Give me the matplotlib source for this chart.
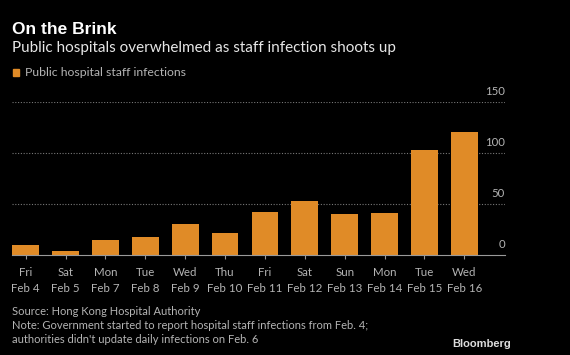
import matplotlib.pyplot as plt

days = ['Fri', 'Sat', 'Mon', 'Tue', 'Wed', 'Thu', 'Fri', 'Sat', 'Sun', 'Mon', 'Tue', 'Wed']
dates = ['Feb 4', 'Feb 5', 'Feb 7', 'Feb 8', 'Feb 9', 'Feb 10', 'Feb 11',
         'Feb 12', 'Feb 13', 'Feb 14', 'Feb 15', 'Feb 16']
infections = [10, 4, 15, 18, 30, 22, 42, 53, 40, 41, 103, 120]
y_ticks = [0, 50, 100, 150]

bar_color = '#E08B27'
grey = '#b4b4b4'
plt.rcParams['font.family'] = ['Lato', 'DejaVu Sans']

fig = plt.figure(figsize=(5.7, 3.55), dpi=100, facecolor='black')
ax = fig.add_axes([12.3 / 570, 100 / 355, (505 - 12.3) / 570, 153.3 / 355])
ax.set_facecolor('black')

x = list(range(len(infections)))
ax.bar(x, infections, width=0.67, color=bar_color, zorder=2)
ax.set_xlim(-0.335, 12.02)
ax.set_ylim(0, 150)

# dotted gridlines with labels sitting above them on the right
for v in y_ticks:
    if v > 0:
        ax.axhline(v, color='#777777', lw=0.8, ls=(0, (1, 1.5)), zorder=1)
    ax.text(1.0, v + 5, str(v), transform=ax.get_yaxis_transform(), ha='right',
            va='bottom', color=grey, fontsize=8.2)

for s in ['top', 'right', 'left']:
    ax.spines[s].set_visible(False)
ax.spines['bottom'].set_color('#999999')
ax.spines['bottom'].set_linewidth(0.8)
ax.set_yticks([])
ax.set_xticks(x)
ax.set_xticklabels(['{}\n{}'.format(d, t) for d, t in zip(days, dates)],
                   color=grey, fontsize=8.3, linespacing=1.55)
ax.tick_params(axis='x', length=3, color='#999999', pad=6)

fig.text(12 / 570, 1 - 34 / 355, 'On the Brink', color='white', fontsize=12.5,
         fontweight='bold', family='Liberation Sans')
fig.text(12 / 570, 1 - 52 / 355, 'Public hospitals overwhelmed as staff infection shoots up',
         color='#e6e6e6', fontsize=11)
fig.patches.append(plt.Rectangle((12.7 / 570, 1 - 76 / 355), 6.6 / 570, 7 / 355,
                                 transform=fig.transFigure, color=bar_color))
fig.text(25 / 570, 1 - 76.5 / 355, 'Public hospital staff infections', color=grey, fontsize=8.8)

fig.text(12 / 570, 1 - 315 / 355, 'Source: Hong Kong Hospital Authority', color=grey, fontsize=8)
fig.text(12 / 570, 1 - 329 / 355,
         'Note: Government started to report hospital staff infections from Feb. 4;',
         color=grey, fontsize=8)
fig.text(12 / 570, 1 - 343 / 355, "authorities didn't update daily infections on Feb. 6",
         color=grey, fontsize=8)
fig.text(511 / 570, 1 - 347 / 355, 'Bloomberg', color='#dddddd', fontsize=8,
         fontweight='bold', ha='right', family='Liberation Sans')

fig.savefig('out.png', facecolor='black')
